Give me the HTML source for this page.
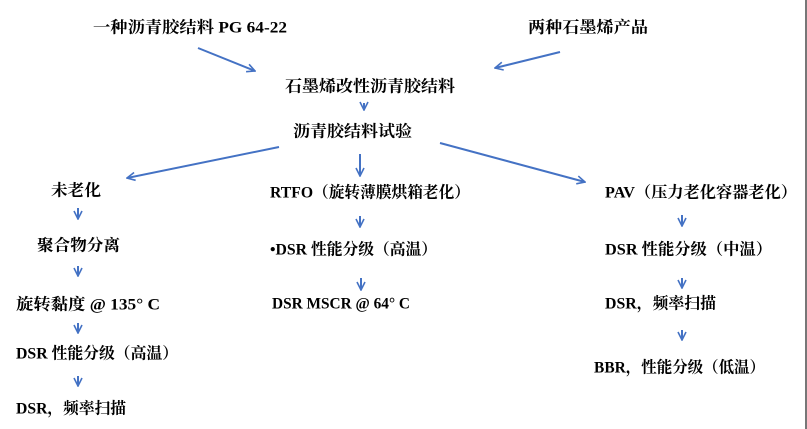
<!DOCTYPE html>
<html><head><meta charset="utf-8"><style>
html,body{margin:0;padding:0;background:#fff;}
svg{display:block}
text{font-family:"Liberation Serif","Noto Serif CJK SC","Noto Sans CJK SC",serif;font-weight:bold;font-size:16px;fill:#000;dominant-baseline:central}
</style></head><body>
<svg width="807" height="429" viewBox="0 0 807 429" xmlns="http://www.w3.org/2000/svg">
<defs>
<marker id="a" viewBox="0 0 10 10" refX="9" refY="5" markerWidth="5" markerHeight="5" orient="auto"><path d="M1,1 L9,5 L1,9" fill="none" stroke="#4472C4" stroke-width="1.6"/></marker>
</defs>
<rect x="805" y="0" width="2" height="429" fill="#777"/>
<g stroke="#4472C4" stroke-width="2" fill="none" marker-end="url(#a)">
<line x1="198" y1="48" x2="255" y2="71"/>
<line x1="560" y1="52" x2="495" y2="68"/>
<line x1="364" y1="103" x2="364" y2="110"/>
<line x1="279" y1="147" x2="127" y2="178"/>
<line x1="360" y1="154" x2="360" y2="176"/>
<line x1="440" y1="143" x2="585" y2="182"/>
<line x1="78" y1="208" x2="78" y2="219"/>
<line x1="78" y1="266" x2="78" y2="276"/>
<line x1="78" y1="323" x2="78" y2="333"/>
<line x1="78" y1="376" x2="78" y2="386"/>
<line x1="360" y1="216" x2="360" y2="227"/>
<line x1="361" y1="278" x2="361" y2="290"/>
<line x1="682" y1="215" x2="682" y2="226"/>
<line x1="682" y1="278" x2="682" y2="288"/>
<line x1="682" y1="330" x2="682" y2="340"/>
</g>
<text x="93" y="28" textLength="194" lengthAdjust="spacingAndGlyphs">一种沥青胶结料 PG 64-22</text>
<text x="528" y="28" textLength="120" lengthAdjust="spacingAndGlyphs">两种石墨烯产品</text>
<text x="285" y="87" textLength="170" lengthAdjust="spacingAndGlyphs">石墨烯改性沥青胶结料</text>
<text x="293" y="132" textLength="119" lengthAdjust="spacingAndGlyphs">沥青胶结料试验</text>
<text x="51" y="191" textLength="50" lengthAdjust="spacingAndGlyphs">未老化</text>
<text x="37" y="246" textLength="83" lengthAdjust="spacingAndGlyphs">聚合物分离</text>
<text x="16" y="305" textLength="144" lengthAdjust="spacingAndGlyphs">旋转黏度 @ 135° C</text>
<text x="16" y="354" textLength="162" lengthAdjust="spacingAndGlyphs">DSR 性能分级（高温）</text>
<text x="16" y="409" textLength="110" lengthAdjust="spacingAndGlyphs">DSR，频率扫描</text>
<text x="270" y="193" textLength="200" lengthAdjust="spacingAndGlyphs">RTFO（旋转薄膜烘箱老化）</text>
<text x="270" y="250" textLength="167" lengthAdjust="spacingAndGlyphs">•DSR 性能分级（高温）</text>
<text x="272" y="304" textLength="138" lengthAdjust="spacingAndGlyphs">DSR MSCR @ 64° C</text>
<text x="605" y="193" textLength="192" lengthAdjust="spacingAndGlyphs">PAV（压力老化容器老化）</text>
<text x="605" y="250" textLength="167" lengthAdjust="spacingAndGlyphs">DSR 性能分级（中温）</text>
<text x="605" y="304" textLength="111" lengthAdjust="spacingAndGlyphs">DSR，频率扫描</text>
<text x="594" y="368" textLength="171" lengthAdjust="spacingAndGlyphs">BBR，性能分级（低温）</text>
</svg>
</body></html>
